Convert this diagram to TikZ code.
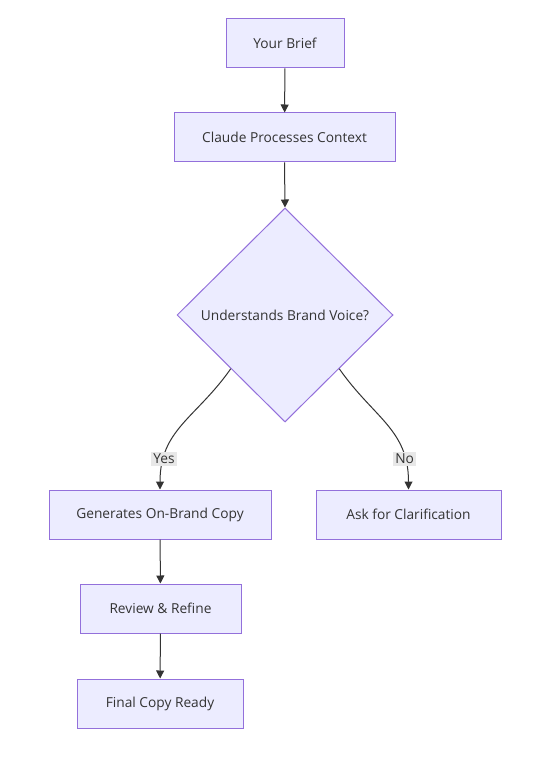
\documentclass[tikz,border=0pt]{standalone}
\usepackage{fontspec}
\setmainfont{Open Sans}
\usetikzlibrary{shapes.geometric,arrows.meta}

\definecolor{boxfill}{HTML}{ECECFF}
\definecolor{boxline}{HTML}{9370DB}
\definecolor{edgecol}{HTML}{333333}
\definecolor{labelbg}{HTML}{E8E8E8}

\tikzset{
    box/.style={draw=boxline, fill=boxfill, line width=0.75pt, minimum height=36.75pt,
        inner sep=0pt, text=edgecol, font=\fontsize{10.3}{12}\selectfont},
    decision/.style={diamond, draw=boxline, fill=boxfill, line width=0.75pt,
        minimum width=162pt, minimum height=160.5pt, inner sep=0pt, text=edgecol,
        font=\fontsize{10.3}{12}\selectfont},
    arr/.style={draw=edgecol, line width=0.75pt, -{Triangle[length=6pt,width=6pt]}},
    edgelabel/.style={fill=labelbg, inner sep=1.5pt, text=edgecol, font=\fontsize{10.3}{12}\selectfont}
}

\begin{document}
\begin{tikzpicture}[x=0.75pt,y=0.75pt]
        \useasboundingbox[fill=white] (0,0) rectangle (552,-762);

        \node[box, minimum width=88.5pt] (brief) at (285,-43.5) {Your Brief};
        \node[box, minimum width=165.75pt] (claude) at (284.5,-137.5) {Claude Processes Context};
        \node[decision] (voice) at (285,-315) {Understands Brand Voice?};
        \node[box, minimum width=166.5pt] (onbrand) at (160,-514.5) {Generates On-Brand Copy};
        \node[box, minimum width=138.75pt] (clarify) at (408.5,-514.5) {Ask for Clarification};
        \node[box, minimum width=120.75pt] (refine) at (160.5,-608.5) {Review \& Refine};
        \node[box, minimum width=124.5pt] (final) at (160,-703.5) {Final Copy Ready};

        \draw[arr] (voice.south west) to[out=-125,in=90,looseness=1.1] node[edgelabel, pos=0.8] {Yes} (onbrand.north);
        \draw[arr] (voice.south east) to[out=-55,in=90,looseness=1.1] node[edgelabel, pos=0.8] {No} (clarify.north);
        \draw[arr] (brief) -- (claude);
        \draw[arr] (claude.south) -- (voice.north);
        \draw[arr] (onbrand) -- (refine);
        \draw[arr] (refine) -- (final);
    \end{tikzpicture}
\end{document}
